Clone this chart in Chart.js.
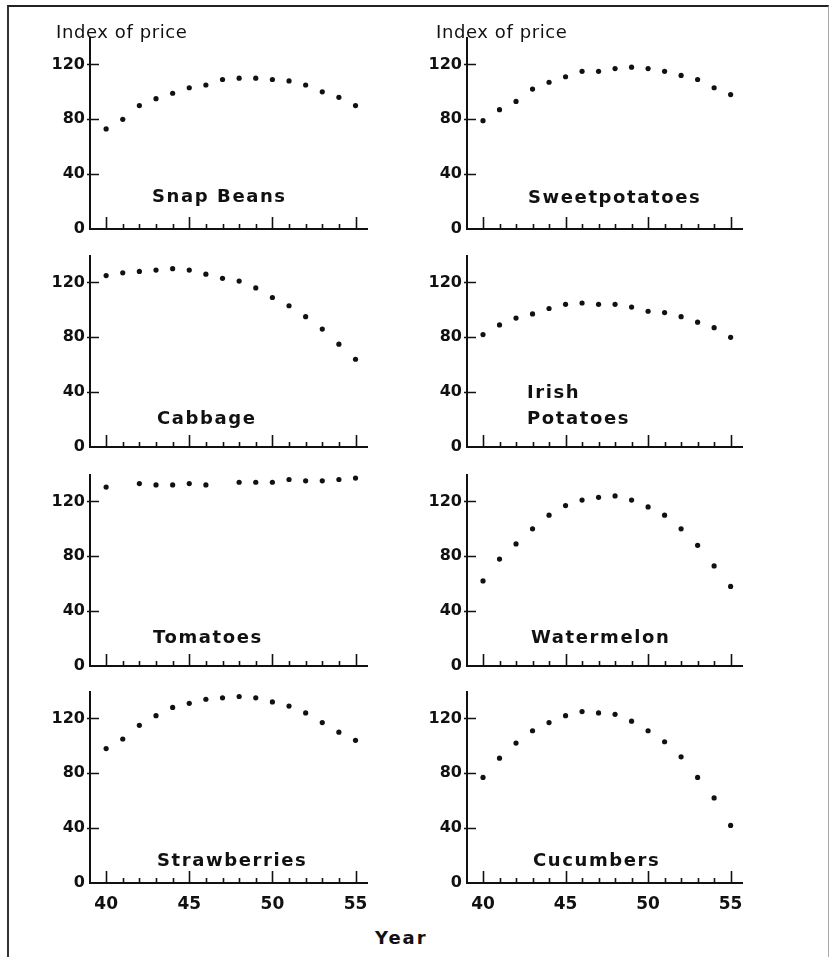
<!DOCTYPE html>
<html><head><meta charset="utf-8">
<script src="https://cdn.jsdelivr.net/npm/chart.js@4.4.1/dist/chart.umd.min.js"></script>
<style>
html,body{margin:0;padding:0;background:#fff;}
#page{position:relative;width:831px;height:957px;overflow:hidden;font-family:'DejaVu Sans',sans-serif;color:#111;background:#fff;}
#frame{position:absolute;left:7px;top:5px;width:819px;height:1000px;border-top:2px solid #222;border-left:2px solid #333;border-right:1px solid #aaa;}
canvas{position:absolute;}
.t{position:absolute;white-space:nowrap;line-height:20px;}
.yt{font-size:18px;letter-spacing:0.6px;}
.lab{font-size:18px;font-weight:bold;letter-spacing:1.6px;}
</style></head><body><div id="page"><div id="frame"></div></div>
<script>
// ---- data ----
const years = [40,41,42,43,44,45,46,47,48,49,50,51,52,53,54,55];
const xTickLabels = [40,45,50,55];
const yTickLabels = [0,40,80,120];
const cropNames = ['Snap Beans','Sweetpotatoes','Cabbage','Irish\nPotatoes','Tomatoes','Watermelon','Strawberries','Cucumbers'];
const snapBeans     = [73, 80, 90, 95, 99, 103, 105, 109, 110, 110, 109, 108, 105, 100, 96, 90];
const sweetpotatoes = [79, 87, 93, 102, 107, 111, 115, 115, 117, 118, 117, 115, 112, 109, 103, 98];
const cabbage       = [125, 127, 128, 129, 130, 129, 126, 123, 121, 116, 109, 103, 95, 86, 75, 64];
const irishPotatoes = [82, 89, 94, 97, 101, 104, 105, 104, 104, 102, 99, 98, 95, 91, 87, 80];
const tomatoes      = [130.5, null, 133, 132, 132, 133, 132, null, 134, 134, 134, 136, 135, 135, 136, 137];
const watermelon    = [62, 78, 89, 100, 110, 117, 121, 123, 124, 121, 116, 110, 100, 88, 73, 58];
const strawberries  = [98, 105, 115, 122, 128, 131, 134, 135, 136, 135, 132, 129, 124, 117, 110, 104];
const cucumbers     = [77, 91, 102, 111, 117, 122, 125, 124, 123, 118, 111, 103, 92, 77, 62, 42];
const seriesList = [snapBeans, sweetpotatoes, cabbage, irishPotatoes, tomatoes, watermelon, strawberries, cucumbers];
const yAxisTitle = 'Index of price';
const xAxisTitle = 'Year';

// ---- layout ----
const colAxisX = [90, 467];
const colRight = [368, 743];
const rowZero = [229, 447, 666, 883];
const yMin = 0, yMax = 140, xMin = 39.03, xMax = 55.75;
const pxPerUnit = 1.368;
const yAxisW = 60;
const labelPos = [[152,196],[528,197],[157,418],[527,402],[153,637],[531,637],[157,860],[533,860]];

const page = document.getElementById('page');
const YFONT = {family:"'DejaVu Sans', sans-serif", weight:'bold', size:16};
const XFONT = {family:"'DejaVu Sans', sans-serif", weight:'bold', size:17};

const innerTicks = {
  id:'innerTicks',
  afterDraw(chart){
    const {ctx, chartArea:a} = chart;
    const x = chart.scales.x, y = chart.scales.y;
    ctx.save();
    ctx.strokeStyle = '#111';
    ctx.lineWidth = 1.6;
    ctx.beginPath();
    yTickLabels.forEach(v => {
      if (v === 0) return;
      const py = Math.round(y.getPixelForValue(v)) + 0.5;
      ctx.moveTo(a.left - 3, py); ctx.lineTo(a.left + 9, py);
    });
    years.forEach(v => {
      const px = Math.round(x.getPixelForValue(v)) + 0.5;
      const h = xTickLabels.includes(v) ? 12 : 5;
      ctx.moveTo(px, a.bottom); ctx.lineTo(px, a.bottom - h);
    });
    ctx.stroke();
    ctx.restore();
  }
};

function addText(cls, txt, left, cy){
  const d = document.createElement('div');
  d.className = 't ' + cls;
  d.textContent = txt;
  d.style.left = left + 'px';
  d.style.top = (cy - 10) + 'px';
  page.appendChild(d);
  return d;
}

seriesList.forEach((vals, i) => {
  const col = i % 2, row = Math.floor(i / 2);
  const isBottom = row === 3;
  const xAxisH = isBottom ? 40 : 6;
  const top = rowZero[row] - (yMax - yMin) * pxPerUnit;
  const left = colAxisX[col] - yAxisW;
  const w = colRight[col] - left;
  const h = Math.round(rowZero[row] - top) + xAxisH;
  const cv = document.createElement('canvas');
  cv.width = w; cv.height = h;
  cv.style.left = left + 'px'; cv.style.top = Math.round(top) + 'px';
  cv.style.width = w + 'px'; cv.style.height = h + 'px';
  page.appendChild(cv);

  new Chart(cv.getContext('2d'), {
    type:'scatter',
    data:{datasets:[{
      label: cropNames[i],
      data: years.map((yr, k) => ({x: yr, y: vals[k]})).filter(p => p.y !== null),
      pointRadius: 2.6, pointBackgroundColor:'#111', pointBorderWidth:0,
      showLine:false, clip:false
    }]},
    options:{
      responsive:false, animation:false, devicePixelRatio:1,
      layout:{padding:0, autoPadding:false},
      plugins:{legend:{display:false}, tooltip:{enabled:false}},
      scales:{
        x:{type:'linear', min:xMin, max:xMax, position:'bottom',
           afterBuildTicks: s => { s.ticks = xTickLabels.map(v => ({value:v})); },
           afterFit: s => { s.height = xAxisH; s.paddingLeft = 0; s.paddingRight = 0; },
           grid:{display:false, drawTicks:false},
           border:{display:true, color:'#111', width:2},
           ticks:{display:isBottom, padding:11, font:XFONT, color:'#111', maxRotation:0}},
        y:{type:'linear', min:yMin, max:yMax, position:'left',
           afterBuildTicks: s => { s.ticks = yTickLabels.map(v => ({value:v})); },
           afterFit: s => { s.width = yAxisW; s.paddingTop = 0; s.paddingBottom = 0; },
           grid:{display:false, drawTicks:false},
           border:{display:true, color:'#111', width:2},
           ticks:{padding:5, font:YFONT, color:'#111'}}
      }
    },
    plugins:[innerTicks]
  });

  const [lx, ly] = labelPos[i];
  const d = addText('lab', '', lx, ly);
  const parts = cropNames[i].split('\n');
  if (parts.length > 1) {
    d.style.top = (ly - 23) + 'px';
    d.style.lineHeight = '26px';
    parts.forEach((p, k) => { if (k) d.appendChild(document.createElement('br')); d.appendChild(document.createTextNode(p)); });
  } else {
    d.textContent = parts[0];
  }
});

addText('yt', yAxisTitle, 56, 32);
addText('yt', yAxisTitle, 436, 32);
const yr = addText('lab', xAxisTitle, 375, 938);
yr.style.letterSpacing = '2px';
</script>
</body></html>
